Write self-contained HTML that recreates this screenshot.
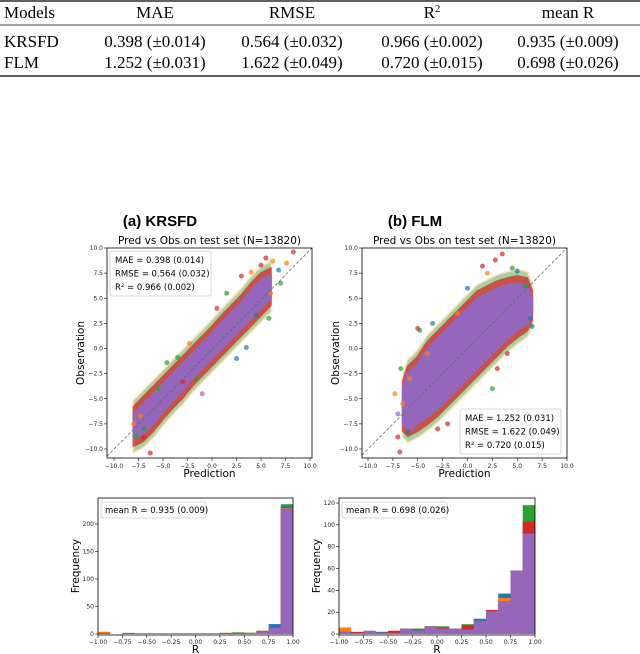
<!DOCTYPE html>
<html><head><meta charset="utf-8"><style>
body{margin:0;background:#fff}
svg{display:block;font-family:"DejaVu Sans","Liberation Sans",sans-serif}
.serif{font-family:"Liberation Serif",serif}
</style></head><body>
<svg id="root" width="640" height="654" viewBox="0 0 640 654" xmlns="http://www.w3.org/2000/svg">
<g class="serif" font-size="17" fill="#000">
<line x1="0" y1="1" x2="640" y2="1" stroke="#000" stroke-width="1.2"/>
<line x1="0" y1="25" x2="640" y2="25" stroke="#000" stroke-width="0.8"/>
<line x1="0" y1="76" x2="640" y2="76" stroke="#000" stroke-width="1.2"/>
<text x="4" y="18">Models</text><text x="155" y="18" text-anchor="middle">MAE</text><text x="292" y="18" text-anchor="middle">RMSE</text><text x="432" y="18" text-anchor="middle">R<tspan dy="-6" font-size="11">2</tspan></text><text x="568" y="18" text-anchor="middle">mean R</text>
<text x="4" y="47">KRSFD</text><text x="155" y="47" text-anchor="middle">0.398 (±0.014)</text><text x="292" y="47" text-anchor="middle">0.564 (±0.032)</text><text x="432" y="47" text-anchor="middle">0.966 (±0.002)</text><text x="568" y="47" text-anchor="middle">0.935 (±0.009)</text>
<text x="4" y="68">FLM</text><text x="155" y="68" text-anchor="middle">1.252 (±0.031)</text><text x="292" y="68" text-anchor="middle">1.622 (±0.049)</text><text x="432" y="68" text-anchor="middle">0.720 (±0.015)</text><text x="568" y="68" text-anchor="middle">0.698 (±0.026)</text>
</g>
<text x="160" y="226" font-size="15" font-weight="bold" text-anchor="middle" font-family="Liberation Sans">(a) KRSFD</text>
<text x="415" y="226" font-size="15" font-weight="bold" text-anchor="middle" font-family="Liberation Sans">(b) FLM</text>
</svg>
<script>
// ---- scatter data (prediction bins with observation band) ----
const bandXA=[-8,-7,-6,-5,-4,-3,-2,-1,0,1,2,3,4,5,6];
const bandLoA=[-9,-8.5,-7.5,-6.3,-5.2,-4.2,-3,-2,-1,0,1,2,3,4,5];
const bandHiA=[-6.5,-5.5,-4.5,-3.5,-2.5,-1.5,-0.5,0.5,1.5,2.6,3.6,4.6,5.8,6.8,7.3];
const outXA=[-8,-7.7,-7,-6.3,-5.5,-6.5,-4.6,-3.5,-3,-1.5,-2.3,1.5,0.5,2.5,3,4,5,5.5,6.2,6.8,7,7.6,8.3,5.8,-1,3.5,6,-7.3,-6.9,4.5];
const outYA=[-7.5,-8.7,-8.8,-10.4,-4,-7,-1.4,-0.9,-3.3,-3,0.5,5.5,4,-1,7.2,7.6,8.3,9,8.7,7.8,6.5,8.5,9.6,3,-4.5,0.1,5.5,-6.7,-8,3.3];
const outCA=[1,2,3,3,2,4,2,2,3,2,1,2,3,0,3,1,3,3,1,0,2,1,3,2,4,0,1,1,2,0];
const bandXB=[-6.5,-6,-5,-4,-3,-2,-1,0,1,2,3,4,5,6,6.5];
const bandLoB=[-7.5,-8,-7.5,-6.8,-6,-5,-4,-3,-2,-1,0,1,1.8,2.5,3.5];
const bandHiB=[-4,-2.5,-1.5,0,1,2,3,4,5,5.5,6,6.3,6.5,6.3,5];
const outXB=[-7,-6.8,-7.3,-6.7,-6,-5.5,-5,-3,-4.8,-2,-1,0,1.5,2,2.8,3.5,4.5,5,5.8,6.3,6.5,-6.5,-5.8,0.5,2.5,-7,3,4,-4,-3.5];
const outYB=[-8.8,-10.3,-4.5,-2,-8.3,-8,2,-8,1.8,-7.5,3.5,6,8.2,7.5,8.8,9.4,8,7.7,6.2,3,2.2,-5.5,-3,-6.5,-4,-6.5,-2,-0.5,-0.5,2.5];
const outCB=[3,3,1,2,0,4,3,3,2,3,1,0,3,1,3,3,2,0,2,0,0,1,1,3,2,4,3,3,1,0];
// ---- histogram data (16 bins, -1..1) ----
const histEdges=[-1,-0.875,-0.75,-0.625,-0.5,-0.375,-0.25,-0.125,0,0.125,0.25,0.375,0.5,0.625,0.75,0.875,1];
const histA_purple=[1,0,1,0,0,0,0,0,0,0,1,1,2,5,11,228];
const histA_red=[2,0,2,1,1,1,1,1,1,1,2,2,2,6,11,228];
const histA_orange=[4,0,1,1,1,1,1,1,1,1,2,2,2,5,11,229];
const histA_green=[1,0,1,1,1,1,1,1,1,1,2,3,2,5,11,236];
const histA_blue=[1,0,1,1,1,1,1,1,1,1,1,2,2,5,18,232];
const histB_purple=[2,1,3,1,1,5,3,7,5,5,4,12,21,30,58,92];
const histB_red=[2,2,2,1,3,5,3,7,6,5,8,12,22,30,58,103];
const histB_orange=[6,1,2,1,2,5,3,7,5,5,4,12,21,33,58,103];
const histB_green=[2,1,2,1,2,4,5,7,7,5,9,12,21,30,58,118];
const histB_blue=[2,1,2,2,2,4,4,7,5,5,4,14,21,37,58,103];
const tickXS=[-10,-7.5,-5,-2.5,0,2.5,5,7.5,10];
const tickLabXS=["−10.0","−7.5","−5.0","−2.5","0.0","2.5","5.0","7.5","10.0"];
const tickXH=[-1,-0.75,-0.5,-0.25,0,0.25,0.5,0.75,1];
const tickLabXH=["−1.00","−0.75","−0.50","−0.25","0.00","0.25","0.50","0.75","1.00"];
const tickYHA=[0,50,100,150,200];
const tickYHB=[0,20,40,60,80,100,120];

const COLORS=['#1f77b4','#ff7f0e','#2ca02c','#d62728','#9467bd'];
const NS='http://www.w3.org/2000/svg';
const root=document.getElementById('root');
function el(tag,attrs,parent,txt){const e=document.createElementNS(NS,tag);for(const k in attrs)e.setAttribute(k,attrs[k]);if(txt!==undefined)e.textContent=txt;(parent||root).appendChild(e);return e;}
function lin(d0,d1,r0,r1){return v=>r0+(v-d0)/(d1-d0)*(r1-r0);}

function scatter(o){
  const g=el('g',{});
  
  
  const x=lin(-10,10,o.x10,o.x10b), y=lin(-10,10,449,248);
  el('text',{x:(o.L+o.R)/2,y:244,'font-size':10.5,'text-anchor':'middle'},g,'Pred vs Obs on test set (N=13820)');
  const poly=(pad)=>{let up=o.bx.map((v,i)=>x(v)+','+y(o.hi[i]+pad)), dn=o.bx.map((v,i)=>x(v)+','+y(o.lo[i]-pad)).reverse();return up.concat(dn).join(' ');};
  const rim2=el('polygon',{points:poly(1.3),fill:'#2ca02c',stroke:'#ff7f0e','stroke-width':3,'stroke-opacity':0.4,'stroke-linejoin':'round',opacity:0.45},g);
  
  
  const rim=el('polygon',{points:poly(0.7),fill:'#d62728',stroke:'#d62728','stroke-width':2,'stroke-linejoin':'round',opacity:0.75},g);
  
  
  const band=el('polygon',{points:poly(0),fill:'#9467bd',stroke:'#9467bd','stroke-width':2,'stroke-linejoin':'round'},g);
  
  
  o.ox.forEach((v,i)=>{const c=el('circle',{cx:x(v),cy:y(o.oy[i]),r:2.5,fill:COLORS[o.oc[i]],opacity:0.7},g);
    
    });
  el('line',{x1:o.L,y1:y((o.L-o.x10)/(o.x10b-o.x10)*20-10),x2:o.R,y2:248,stroke:'#666','stroke-dasharray':'3,2','stroke-width':0.8},g);
  el('rect',{x:o.L,y:248,width:o.R-o.L,height:210,fill:'none',stroke:'#000','stroke-width':0.8},g);
  tickXS.forEach((t,i)=>{el('line',{x1:x(t),x2:x(t),y1:458,y2:461,stroke:'#000','stroke-width':0.6},g);
    el('text',{x:x(t),y:468,'font-size':6,'text-anchor':'middle',fill:'#222'},g,tickLabXS[i]);
    el('line',{x1:o.L,x2:o.L-3,y1:y(t),y2:y(t),stroke:'#000','stroke-width':0.6},g);
    el('text',{x:o.L-4,y:y(t)+2,'font-size':6,'text-anchor':'end',fill:'#222'},g,tickLabXS[i]);});
  el('text',{x:(o.L+o.R)/2,y:477,'font-size':10.5,'text-anchor':'middle'},g,'Prediction');
  el('text',{x:0,y:0,'font-size':10.5,'text-anchor':'middle',transform:`translate(${o.L-23},353) rotate(-90)`},g,'Observation');
  const lg=el('g',{},g);
  
  
  el('rect',{x:o.lx,y:o.ly,width:101,height:45,fill:'#fff',stroke:'#ccc','stroke-width':0.8,rx:2},lg);
  o.lines.forEach((s,i)=>el('text',{x:o.lx+5,y:o.ly+12+i*13.5,'font-size':8.5},lg,s));
}
scatter({name:'scatter-krsfd',L:107,R:312,x10:114,x10b:310,bx:bandXA,lo:bandLoA,hi:bandHiA,ox:outXA,oy:outYA,oc:outCA,lx:110,ly:251,lines:['MAE = 0.398 (0.014)','RMSE = 0.564 (0.032)','R² = 0.966 (0.002)']});
scatter({name:'scatter-flm',L:362,R:567,x10:368,x10b:567,bx:bandXB,lo:bandLoB,hi:bandHiB,ox:outXB,oy:outYB,oc:outCB,lx:460,ly:409,lines:['MAE = 1.252 (0.031)','RMSE = 1.622 (0.049)','R² = 0.720 (0.015)']});

function hist(o){
  const g=el('g',{});
  
  
  const x=lin(-1,1,o.L,o.R), y=lin(0,o.ymax,634,o.ytop);
  const order=[['green',2],['blue',0],['orange',1],['red',3],['purple',4]];
  order.forEach(([nm,ci])=>{o.series[nm].forEach((v,i)=>{if(i>=histEdges.length-1||v<=0)return;
    const r=el('rect',{x:x(histEdges[i]),y:y(v),width:x(histEdges[i+1])-x(histEdges[i]),height:634-y(v),fill:COLORS[ci]},g);
    
    });});
  el('rect',{x:o.L,y:498,width:o.R-o.L,height:137,fill:'none',stroke:'#000','stroke-width':0.8},g);
  tickXH.forEach((t,i)=>{el('line',{x1:x(t),x2:x(t),y1:635,y2:638,stroke:'#000','stroke-width':0.6},g);
    el('text',{x:x(t),y:644,'font-size':6,'text-anchor':'middle',fill:'#222'},g,tickLabXH[i]);});
  o.yt.forEach(t=>{el('line',{x1:o.L,x2:o.L-3,y1:y(t),y2:y(t),stroke:'#000','stroke-width':0.6},g);
    el('text',{x:o.L-4,y:y(t)+2,'font-size':6,'text-anchor':'end',fill:'#222'},g,String(t));});
  el('text',{x:(o.L+o.R)/2,y:653,'font-size':10.5,'text-anchor':'middle'},g,'R');
  el('text',{x:0,y:0,'font-size':10.5,'text-anchor':'middle',transform:`translate(${o.L-19},566) rotate(-90)`},g,'Frequency');
  el('rect',{x:o.L+3,y:502,width:105,height:16,fill:'#fff',stroke:'#ccc','stroke-width':0.8,rx:2},g);
  el('text',{x:o.L+7,y:513,'font-size':8.5},g,o.label);
}
hist({name:'hist-krsfd',L:98,R:293,ymax:200,ytop:524,yt:tickYHA,label:'mean R = 0.935 (0.009)',series:{green:histA_green,blue:histA_blue,orange:histA_orange,red:histA_red,purple:histA_purple}});
hist({name:'hist-flm',L:339,R:535,ymax:120,ytop:503,yt:tickYHB,label:'mean R = 0.698 (0.026)',series:{green:histB_green,blue:histB_blue,orange:histB_orange,red:histB_red,purple:histB_purple}});
</script>
</body></html>
